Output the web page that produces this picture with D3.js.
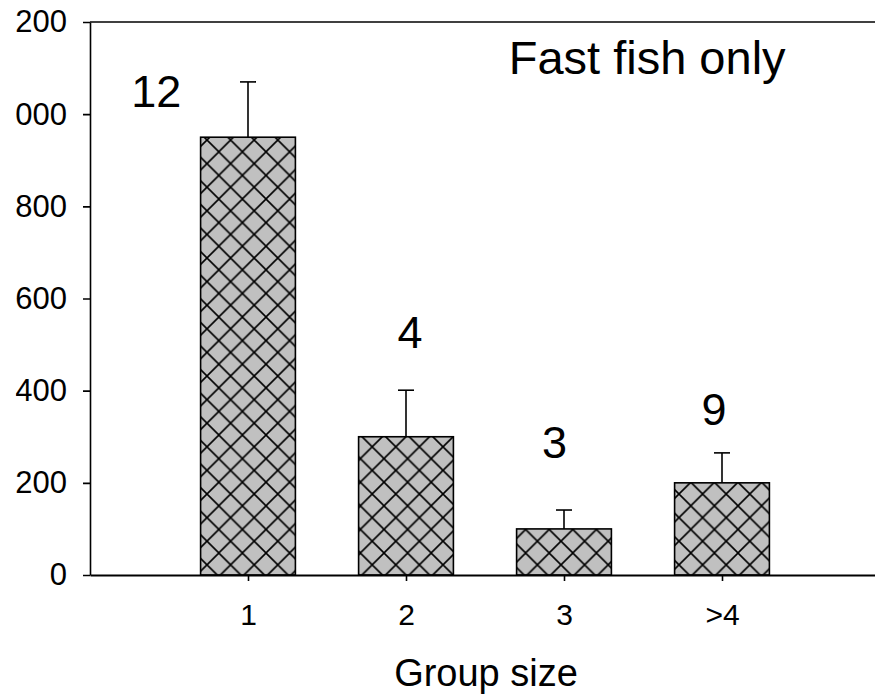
<!DOCTYPE html>
<html>
<head>
<meta charset="utf-8">
<script src="https://cdn.jsdelivr.net/npm/d3@7"></script>
<style>
  html, body { margin: 0; padding: 0; background: #fff; }
  svg { display: block; font-family: "Liberation Sans", Arial, sans-serif; }
</style>
</head>
<body>
<svg id="chart" width="875" height="695"></svg>
<script>
// Group size categories and their mean values with upper error bars
const groups = ["1", "2", "3", ">4"];
const means = [950, 300, 100, 200];
const errors = [120, 101, 41, 65];
// Sample size shown above each bar, with where it sits (x in group units, y in data units)
const sampleSizes = ["12", "4", "3", "9"];
const sampleX = [0.42, 2.025, 2.94, 3.95];
const sampleY = [1016, 493, 254, 326];
const yTicks = [0, 200, 400, 600, 800, 1000, 1200];

const W = 875, H = 695;
const svg = d3.select("#chart");

const x = d3.scaleLinear().domain([0, 5]).range([90, 880]);
const y = d3.scaleLinear().domain([0, 1200]).range([575, 22]);
const barW = x(0.6) - x(0);

// Cross-hatch fill used by the bars
const defs = svg.append("defs");
const s = 23.6;
const pat = defs.append("pattern")
  .attr("id", "hatch")
  .attr("patternUnits", "userSpaceOnUse")
  .attr("width", s).attr("height", s)
  .attr("x", 207 - s / 2).attr("y", 140 - s / 2);
pat.append("rect").attr("width", s).attr("height", s).attr("fill", "#c0c0c0");
pat.append("path")
  .attr("d", `M0,0L${s},${s}M${s},0L0,${s}M${-s/2},${s/2}L${s/2},${s*1.5}M${s/2},${-s/2}L${s*1.5},${s/2}`)
  .attr("stroke", "#000").attr("stroke-width", 1.6).attr("fill", "none");

// The plot area starts a little past the left page edge
defs.append("clipPath").attr("id", "leftEdge")
  .append("rect").attr("x", 15.5).attr("y", 0).attr("width", W).attr("height", H);

// Bars
const bars = svg.append("g");
groups.forEach((g, i) => {
  const cx = x(i + 1);
  bars.append("rect")
    .attr("x", cx - barW / 2)
    .attr("y", y(means[i]))
    .attr("width", barW)
    .attr("height", y(0) - y(means[i]))
    .attr("fill", "url(#hatch)")
    .attr("stroke", "#000")
    .attr("stroke-width", 1.6);
});

// Upper error bars
const err = svg.append("g").attr("stroke", "#000").attr("stroke-width", 1.6);
groups.forEach((g, i) => {
  const cx = x(i + 1);
  const top = y(means[i] + errors[i]);
  err.append("line").attr("x1", cx).attr("x2", cx)
    .attr("y1", y(means[i])).attr("y2", top);
  err.append("line").attr("x1", cx - 8).attr("x2", cx + 8)
    .attr("y1", top).attr("y2", top);
});

// Top frame line
svg.append("line")
  .attr("x1", x(0)).attr("x2", x(5))
  .attr("y1", y(1200)).attr("y2", y(1200))
  .attr("stroke", "#000").attr("stroke-width", 1.6);

// Y axis
const yAxis = svg.append("g")
  .attr("clip-path", "url(#leftEdge)")
  .append("g")
  .attr("transform", `translate(${x(0)},0)`)
  .call(d3.axisLeft(y).tickValues(yTicks).tickSize(7).tickPadding(16).tickSizeOuter(0));
yAxis.select(".domain").attr("stroke-width", 1.6);
yAxis.selectAll(".tick line").attr("stroke-width", 1.6);
yAxis.selectAll("text").attr("font-size", 31).attr("fill", "#000")
  .attr("font-family", "'Liberation Sans', Arial, sans-serif");

// X axis
const xAxis = svg.append("g")
  .attr("transform", `translate(0,${y(0)})`)
  .call(d3.axisBottom(x).tickValues([1, 2, 3, 4])
    .tickFormat(d => groups[d - 1]).tickSize(6).tickPadding(23).tickSizeOuter(0));
xAxis.select(".domain").attr("stroke-width", 2.2);
xAxis.selectAll(".tick line").attr("stroke-width", 1.6);
xAxis.selectAll("text").attr("font-size", 30).attr("fill", "#000")
  .attr("font-family", "'Liberation Sans', Arial, sans-serif");

// X axis title
svg.append("text")
  .attr("x", 486).attr("y", 686)
  .attr("text-anchor", "middle")
  .attr("font-size", 38)
  .text("Group size");

// Sample sizes
sampleSizes.forEach((t, i) => {
  svg.append("text")
    .attr("x", x(sampleX[i])).attr("y", y(sampleY[i]))
    .attr("text-anchor", "middle")
    .attr("font-size", 45)
    .text(t);
});

// Panel note
svg.append("text")
  .attr("x", x(2.65)).attr("y", y(1087))
  .attr("font-size", 47)
  .text("Fast fish only");
</script>
</body>
</html>
